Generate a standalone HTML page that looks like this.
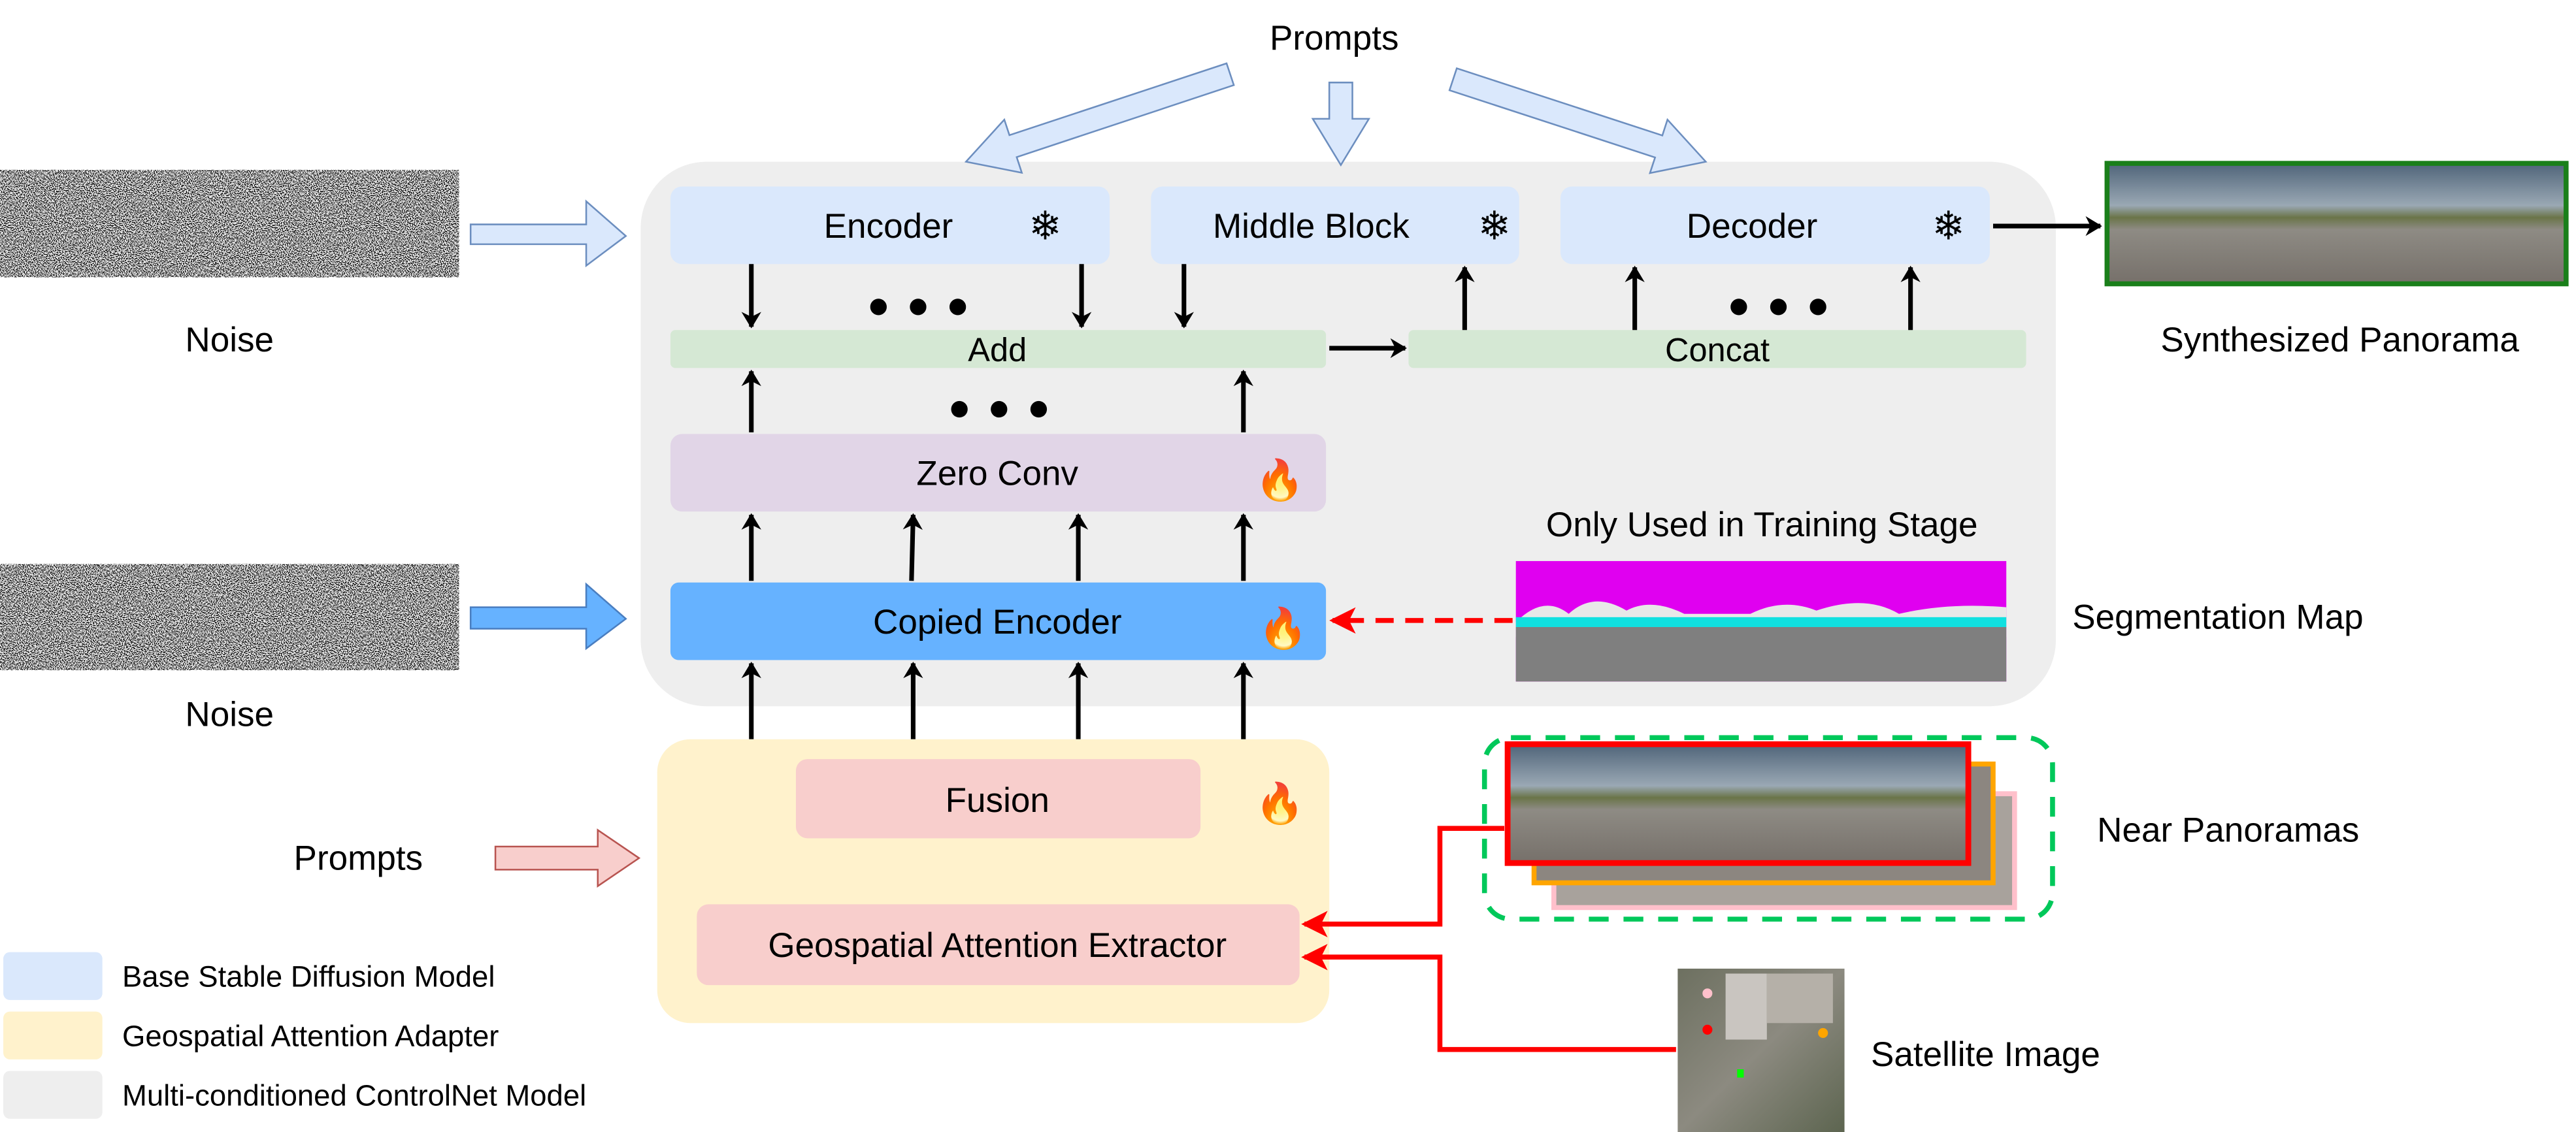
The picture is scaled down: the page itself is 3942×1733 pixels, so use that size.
<!DOCTYPE html>
<html><head><meta charset="utf-8"><style>
html,body{margin:0;padding:0;background:#fff;}
svg{display:block;}
text{font-family:"Liberation Sans",Arial,sans-serif;fill:#000;}
</style></head><body>
<svg width="3942" height="1733" viewBox="0 0 1560 686" preserveAspectRatio="none" xmlns="http://www.w3.org/2000/svg">
<defs>
<filter id="nz2" x="0" y="0" width="100%" height="100%">
<feTurbulence type="fractalNoise" baseFrequency="1.6" numOctaves="1" seed="7" result="t"/>
<feColorMatrix in="t" type="matrix" values="5 0 0 0 -2.1 5 0 0 0 -2.1 5 0 0 0 -2.1 0 0 0 0 1"/>
</filter>
<linearGradient id="pano" x1="0" y1="0" x2="0" y2="1">
<stop offset="0" stop-color="#4f6479"/><stop offset="0.35" stop-color="#9aa8b4"/>
<stop offset="0.45" stop-color="#6a7448"/><stop offset="0.55" stop-color="#8e8b84"/>
<stop offset="1" stop-color="#76706a"/></linearGradient>
<linearGradient id="sat" x1="0" y1="0" x2="1" y2="1">
<stop offset="0" stop-color="#6d7060"/><stop offset="0.5" stop-color="#8c8a80"/><stop offset="1" stop-color="#5d6550"/></linearGradient>
<marker id="ah" markerWidth="10" markerHeight="12" refX="9" refY="6" orient="auto" markerUnits="userSpaceOnUse" viewBox="0 0 10 12">
<path d="M0,0 L10,6 L0,12 L3,6 z" fill="#000"/></marker>
<marker id="ar" markerWidth="16" markerHeight="16" refX="14" refY="8" orient="auto" markerUnits="userSpaceOnUse" viewBox="0 0 16 16">
<path d="M0,0 L16,8 L0,16 L4,8 z" fill="#f00"/></marker>
</defs>

<!-- Noise images -->
<rect x="0" y="103" width="278" height="65" fill="#808080" filter="url(#nz2)"/>
<rect x="0" y="342" width="278" height="64" fill="#808080" filter="url(#nz2)"/>
<text x="139" y="213" font-size="21" text-anchor="middle">Noise</text>
<text x="139" y="440" font-size="21" text-anchor="middle">Noise</text>

<!-- noise arrows -->
<polygon points="285,136 355,136 355,122 379,143 355,161 355,148 285,148" fill="#dae8fc" stroke="#6c8ebf" stroke-width="1"/>
<polygon points="285,368 355,368 355,354 379,375 355,393 355,381 285,381" fill="#66b2ff" stroke="#4a7ec0" stroke-width="1"/>

<!-- gray main -->
<rect x="388" y="98" width="857" height="330" rx="40" fill="#eeeeee"/>

<!-- Prompts top -->
<text x="808" y="30" font-size="21" text-anchor="middle">Prompts</text>
<polygon points="747.2,51.6 615.7,95.2 618.8,104.7 585,98 608.2,72.5 611.3,81.9 742.8,38.4" fill="#dae8fc" stroke="#6c8ebf" stroke-width="1"/>
<polygon points="805,50 819,50 819,72 829,72 812,100 795,72 805,72" fill="#dae8fc" stroke="#6c8ebf" stroke-width="1"/>
<polygon points="877.8,54.7 1002.3,95.4 999.2,104.9 1033,98 1009.8,72.5 1006.7,82.1 882.2,41.4" fill="#dae8fc" stroke="#6c8ebf" stroke-width="1"/>

<rect x="406" y="113" width="266" height="47" rx="7" fill="#dae8fc"/>
<text x="538" y="144" font-size="21" text-anchor="middle">Encoder</text>
<text x="633" y="145" font-size="24" text-anchor="middle" fill="#7cc4ee">❄</text>
<rect x="697" y="113" width="223" height="47" rx="7" fill="#dae8fc"/>
<text x="794" y="144" font-size="21" text-anchor="middle">Middle Block</text>
<text x="905" y="145" font-size="24" text-anchor="middle" fill="#7cc4ee">❄</text>
<rect x="945" y="113" width="260" height="47" rx="7" fill="#dae8fc"/>
<text x="1061" y="144" font-size="21" text-anchor="middle">Decoder</text>
<text x="1180" y="145" font-size="24" text-anchor="middle" fill="#7cc4ee">❄</text>

<rect x="406" y="200" width="397" height="23" rx="3" fill="#d5e8d4"/>
<text x="604" y="219" font-size="20" text-anchor="middle">Add</text>
<rect x="853" y="200" width="374" height="23" rx="3" fill="#d5e8d4"/>
<text x="1040" y="219" font-size="20" text-anchor="middle">Concat</text>

<rect x="406" y="263" width="397" height="47" rx="7" fill="#e1d5e7"/>
<text x="604" y="294" font-size="21" text-anchor="middle">Zero Conv</text>
<text x="775" y="299" font-size="24" text-anchor="middle">🔥</text>

<rect x="406" y="353" width="397" height="47" rx="5" fill="#66b2ff"/>
<text x="604" y="384" font-size="21" text-anchor="middle">Copied Encoder</text>
<text x="777" y="389" font-size="24" text-anchor="middle">🔥</text>

<!-- arrows inside -->
<g stroke="#000" stroke-width="2.8" marker-end="url(#ah)">
<line x1="455" y1="160" x2="455" y2="198"/>
<line x1="655" y1="160" x2="655" y2="198"/>
<line x1="717" y1="160" x2="717" y2="198"/>
<line x1="455" y1="262" x2="455" y2="225"/>
<line x1="753" y1="262" x2="753" y2="225"/>
<line x1="455" y1="352" x2="455" y2="312"/>
<line x1="552" y1="352" x2="553" y2="312"/>
<line x1="653" y1="352" x2="653" y2="312"/>
<line x1="753" y1="352" x2="753" y2="312"/>
<line x1="455" y1="448" x2="455" y2="402"/>
<line x1="553" y1="448" x2="553" y2="402"/>
<line x1="653" y1="448" x2="653" y2="402"/>
<line x1="753" y1="448" x2="753" y2="402"/>
<line x1="887" y1="200" x2="887" y2="162"/>
<line x1="990" y1="200" x2="990" y2="162"/>
<line x1="1157" y1="200" x2="1157" y2="162"/>
<line x1="805" y1="211" x2="851" y2="211"/>
<line x1="1207" y1="137" x2="1272" y2="137"/>
<line x1="604" y1="547" x2="604" y2="510"/>
</g>
<g fill="#000">
<circle cx="532" cy="186" r="5"/><circle cx="556" cy="186" r="5"/><circle cx="580" cy="186" r="5"/>
<circle cx="581" cy="248" r="5"/><circle cx="605" cy="248" r="5"/><circle cx="629" cy="248" r="5"/>
<circle cx="1053" cy="186" r="5"/><circle cx="1077" cy="186" r="5"/><circle cx="1101" cy="186" r="5"/>
</g>

<!-- segmentation -->
<text x="1067" y="325" font-size="21" text-anchor="middle">Only Used in Training Stage</text>
<rect x="918" y="340" width="297" height="73" fill="#e000f0"/>
<path d="M918,377 Q935,360 950,372 Q965,358 985,370 Q1000,362 1020,372 L1060,372 Q1080,362 1100,370 Q1130,360 1150,372 Q1180,365 1215,368 L1215,386 L918,386 z" fill="#e8e8e8"/>
<rect x="918" y="374" width="297" height="6" fill="#10e0e0"/>
<rect x="918" y="380" width="297" height="33" fill="#7f7f7f"/>
<text x="1255" y="381" font-size="21">Segmentation Map</text>
<line x1="916" y1="376" x2="807" y2="376" stroke="#f00" stroke-width="3" stroke-dasharray="11,7" marker-end="url(#ar)"/>

<!-- synthesized -->
<rect x="1276" y="99" width="278" height="73" fill="url(#pano)" stroke="#1a7f1a" stroke-width="3"/>
<text x="1417" y="213" font-size="21" text-anchor="middle">Synthesized Panorama</text>

<!-- yellow adapter -->
<rect x="398" y="448" width="407" height="172" rx="20" fill="#fff2cc"/>
<rect x="482" y="460" width="245" height="48" rx="7" fill="#f8cecc"/>
<text x="604" y="492" font-size="21" text-anchor="middle">Fusion</text>
<text x="775" y="495" font-size="24" text-anchor="middle">🔥</text>
<rect x="422" y="548" width="365" height="49" rx="7" fill="#f8cecc"/>
<text x="604" y="580" font-size="21" text-anchor="middle">Geospatial Attention Extractor</text>

<text x="217" y="527" font-size="21" text-anchor="middle">Prompts</text>
<polygon points="300,513 362,513 362,503 387,520 362,537 362,527 300,527" fill="#f8cecc" stroke="#b85450" stroke-width="1"/>

<!-- near panoramas -->
<rect x="899" y="447" width="344" height="110" rx="16" fill="none" stroke="#00c85a" stroke-width="3" stroke-dasharray="12,9"/>
<rect x="941" y="481" width="279" height="69" fill="#a8a29c" stroke="#ffc0cb" stroke-width="3"/>
<rect x="929" y="463" width="278" height="72" fill="#8c8680" stroke="#ffa500" stroke-width="3"/>
<rect x="913" y="451" width="279" height="72" fill="url(#pano)" stroke="#f00" stroke-width="3.5"/>
<text x="1270" y="510" font-size="21">Near Panoramas</text>

<!-- satellite -->
<rect x="1016" y="587" width="101" height="99" fill="url(#sat)"/>
<rect x="1045" y="590" width="25" height="40" fill="#c9c5c0"/>
<rect x="1070" y="590" width="40" height="30" fill="#b5b0a8"/>
<circle cx="1034" cy="602" r="3" fill="#ffc0cb"/>
<circle cx="1034" cy="624" r="3" fill="#f00"/>
<circle cx="1104" cy="626" r="3" fill="#ffa500"/>
<rect x="1052" y="648" width="4" height="5" fill="#0f0"/>
<text x="1133" y="646" font-size="21">Satellite Image</text>

<!-- red connectors -->
<polyline points="911,502 872,502 872,560 790,560" fill="none" stroke="#f00" stroke-width="3" marker-end="url(#ar)"/>
<polyline points="1015,636 872,636 872,580 790,580" fill="none" stroke="#f00" stroke-width="3" marker-end="url(#ar)"/>

<!-- legend -->
<rect x="2" y="577" width="60" height="29" rx="4" fill="#dae8fc"/>
<text x="74" y="598" font-size="18">Base Stable Diffusion Model</text>
<rect x="2" y="613" width="60" height="29" rx="4" fill="#fff2cc"/>
<text x="74" y="634" font-size="18">Geospatial Attention Adapter</text>
<rect x="2" y="649" width="60" height="29" rx="4" fill="#eeeeee"/>
<text x="74" y="670" font-size="18">Multi-conditioned ControlNet Model</text>
</svg>
</body></html>
